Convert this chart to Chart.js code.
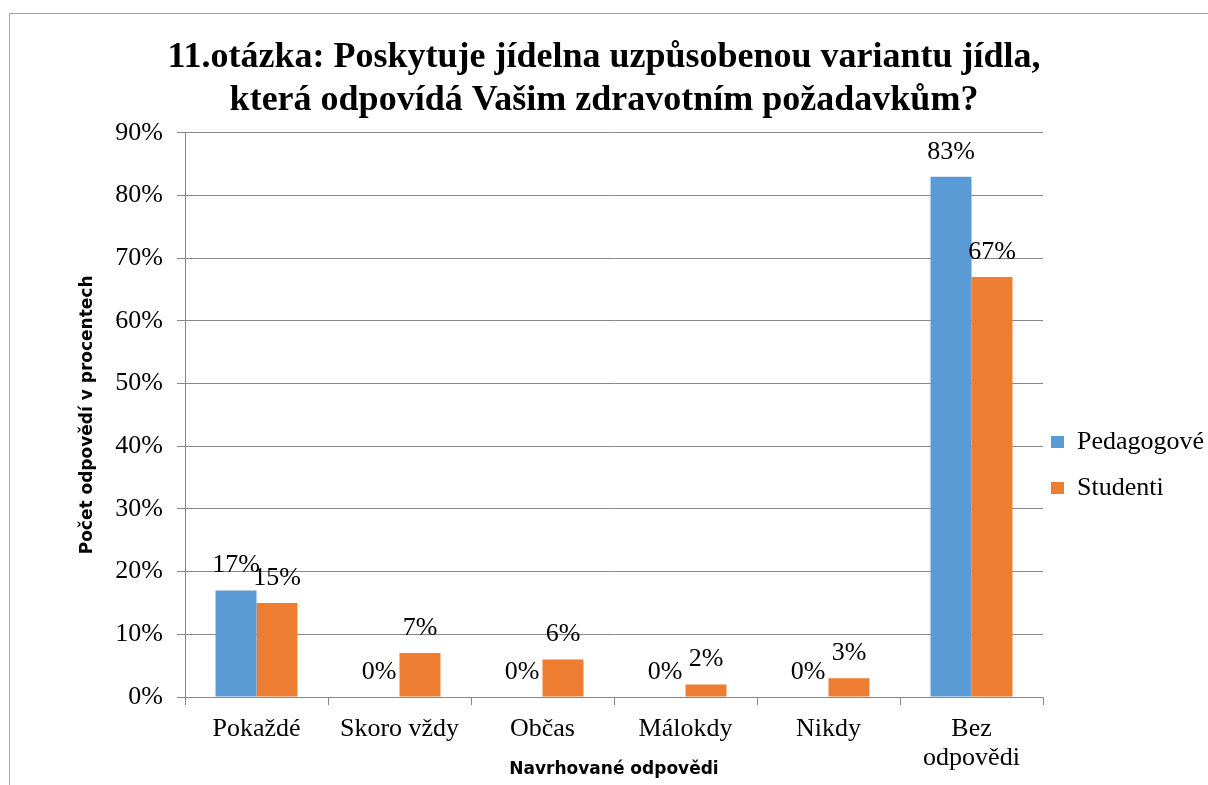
<!DOCTYPE html>
<html>
<head>
<meta charset="utf-8">
<script src="https://cdn.jsdelivr.net/npm/chart.js@4.4.1/dist/chart.umd.min.js"></script>
<style>
  html, body { margin: 0; padding: 0; background: #fff; overflow: hidden; }
  .frame { position: absolute; left: 9px; top: 13px; width: 1400px; height: 1000px; border: 1.5px solid #a6a6a6; }
  .wrap { position: absolute; left: 0; top: 0; width: 1208px; height: 785px; }
</style>
</head>
<body>
<div class="frame"></div>
<div class="wrap"><canvas id="answersChart"></canvas></div>
<script>
const categories = ['Pokaždé', 'Skoro vždy', 'Občas', 'Málokdy', 'Nikdy', ['Bez', 'odpovědi']];
const teachers = [17, 0, 0, 0, 0, 83];
const students = [15, 7, 6, 2, 3, 67];
const yTicks = [0, 10, 20, 30, 40, 50, 60, 70, 80, 90];

const serif = '"Liberation Serif", "Times New Roman", serif';
const heavySans = '"DejaVu Sans", sans-serif';

// value labels above each bar
const valueLabels = {
    id: 'valueLabels',
    afterDatasetsDraw(chart) {
        const ctx = chart.ctx;
        ctx.save();
        ctx.font = '26px ' + serif;
        ctx.fillStyle = '#000';
        ctx.textAlign = 'center';
        ctx.textBaseline = 'alphabetic';
        chart.data.datasets.forEach((ds, di) => {
            chart.getDatasetMeta(di).data.forEach((bar, i) => {
                ctx.fillText(ds.data[i] + '%', bar.x, bar.y - 18);
            });
        });
        ctx.restore();
    }
};

new Chart(document.getElementById('answersChart'), {
    type: 'bar',
    data: {
        labels: categories,
        datasets: [
            { label: 'Pedagogové', data: teachers, backgroundColor: '#5B9BD5' },
            { label: 'Studenti', data: students, backgroundColor: '#ED7D31' }
        ]
    },
    options: {
        responsive: true,
        maintainAspectRatio: false,
        animation: false,
        layout: { padding: { left: 0, right: 0, top: 0, bottom: 0 } },
        datasets: { bar: { categoryPercentage: 0.573, barPercentage: 1 } },
        scales: {
            x: {
                grid: { drawOnChartArea: false, drawTicks: true, tickLength: 8, color: '#888', offset: true },
                border: { color: '#888' },
                ticks: { font: { family: serif, size: 26, lineHeight: 1.115 }, color: '#000', padding: 9.5, maxRotation: 0 },
                title: {
                    display: true,
                    text: 'Navrhované odpovědi',
                    font: { family: heavySans, size: 17, weight: 'bold' },
                    color: '#000',
                    padding: { top: 0, bottom: 5 }
                },
                afterFit: s => { s.height = 88; }
            },
            y: {
                min: 0,
                max: 90,
                afterBuildTicks: s => { s.ticks = yTicks.map(v => ({ value: v })); },
                grid: { color: '#888', tickLength: 8 },
                border: { color: '#888' },
                ticks: { font: { family: serif, size: 26 }, color: '#000', padding: 14, callback: v => v + '%' },
                title: {
                    display: true,
                    text: 'Počet odpovědí v procentech',
                    font: { family: heavySans, size: 17, weight: 'bold' },
                    color: '#000',
                    padding: { top: 77, bottom: 0 }
                },
                afterFit: s => { s.width = 185; }
            }
        },
        plugins: {
            title: {
                display: true,
                text: ['11.otázka: Poskytuje jídelna uzpůsobenou variantu jídla,', 'která odpovídá Vašim zdravotním požadavkům?'],
                font: { family: serif, size: 36, weight: 'bold', lineHeight: 1.2 },
                color: '#000',
                padding: { top: 36.4, bottom: 10 }
            },
            legend: {
                position: 'right',
                maxWidth: 165,
                title: { display: true, text: '', padding: { top: 0, bottom: 137 }, font: { size: 20, lineHeight: 1 } },
                labels: {
                    font: { family: serif, size: 26, lineHeight: 1.4615 },
                    color: '#000',
                    boxWidth: 13,
                    boxHeight: 12,
                    padding: 8,
                    // array text so the row height follows the font lineHeight
                    generateLabels: chart => Chart.defaults.plugins.legend.labels.generateLabels(chart)
                        .map(item => Object.assign(item, { text: [item.text] }))
                }
            },
            tooltip: { enabled: false }
        }
    },
    plugins: [valueLabels]
});
</script>
</body>
</html>
